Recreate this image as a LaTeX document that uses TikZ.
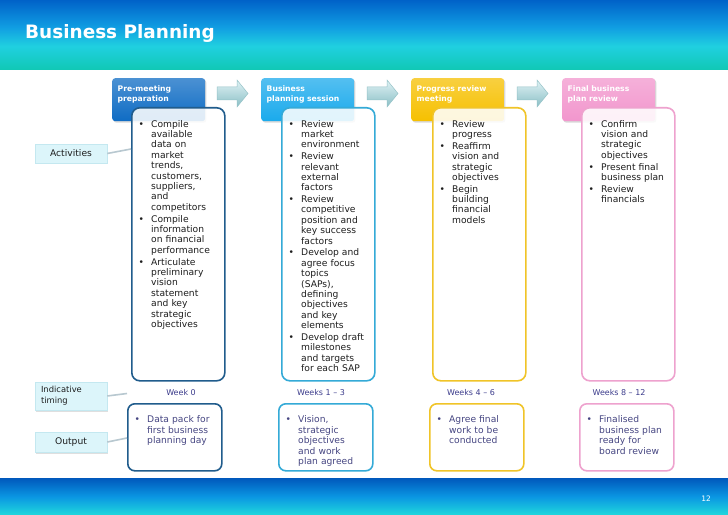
\documentclass[tikz,border=0pt]{standalone}
\usepackage{fontspec}
\setmainfont{DejaVu Sans}
\usetikzlibrary{shadows}
\definecolor{hdrA}{RGB}{15,108,196}
\definecolor{hdrB}{RGB}{26,170,236}
\definecolor{hdrC}{RGB}{246,192,0}
\definecolor{hdrD}{RGB}{242,150,205}
\definecolor{bdA}{RGB}{32,92,140}
\definecolor{bdB}{RGB}{52,170,215}
\definecolor{bdC}{RGB}{240,196,40}
\definecolor{bdD}{RGB}{238,162,206}
\definecolor{bodytxtc}{RGB}{30,30,30}
\definecolor{outtxtc}{RGB}{70,70,130}
\definecolor{weektxtc}{RGB}{60,60,140}
\definecolor{labfill}{RGB}{220,245,250}
\definecolor{labdraw}{RGB}{196,232,240}
\definecolor{connc}{RGB}{184,200,208}
\definecolor{hb1}{RGB}{0,98,200}
\definecolor{hb2}{RGB}{16,156,226}
\definecolor{hb3}{RGB}{32,208,224}
\definecolor{hb4}{RGB}{16,200,180}
\definecolor{fb1}{RGB}{0,88,188}
\definecolor{fb2}{RGB}{10,150,226}
\definecolor{fb3}{RGB}{32,216,220}
\definecolor{arrtop}{RGB}{224,243,245}
\definecolor{arrbot}{RGB}{138,190,197}
\definecolor{arrdraw}{RGB}{150,195,200}

\pgfdeclareverticalshading{hband}{100bp}{color(0bp)=(hb4); color(25bp)=(hb4); color(42bp)=(hb3); color(56bp)=(hb2); color(75bp)=(hb1); color(100bp)=(hb1)}
\pgfdeclareverticalshading{fband}{100bp}{color(0bp)=(fb3); color(25bp)=(fb3); color(50bp)=(fb2); color(75bp)=(fb1); color(100bp)=(fb1)}

\makeatletter
\newcommand{\bitem}[1]{\par{\let\\\@normalcr\hangindent=12.5bp\hangafter=1\noindent\strut\makebox[12.5bp][l]{•}#1\par}}
\makeatother

\tikzset{
 hdrbox/.style={rounded corners=3bp, minimum width=93bp, minimum height=43bp, anchor=north west, inner sep=0pt,
   drop shadow={opacity=0.3, shadow xshift=1.2bp, shadow yshift=-1.5bp}},
 hdrtext/.style={anchor=north west, inner sep=0pt, text width=90bp, text=white,
   font=\fontsize{7.7}{10}\selectfont\bfseries},
 actbox/.style={rounded corners=8bp, line width=1.6bp, fill=white, fill opacity=0.87,
   minimum width=93bp, minimum height=273bp, anchor=north west, inner sep=0pt},
 outbox/.style={rounded corners=7bp, line width=1.6bp, fill=white,
   minimum width=94bp, minimum height=67bp, anchor=north west, inner sep=0pt},
 bodytext/.style={anchor=north west, inner sep=0pt, text width=92bp, text=bodytxtc,
   font=\fontsize{9.2}{10.45}\selectfont\setlength{\parskip}{1.3bp}},
 outtext/.style={bodytext, text=outtxtc},
 weektext/.style={inner sep=0pt, text=weektxtc, font=\fontsize{8}{10}\selectfont},
 labbox/.style={fill=labfill, draw=labdraw, line width=0.5bp, inner sep=0pt, minimum width=72bp,
   text=bodytxtc, font=\fontsize{9.2}{11}\selectfont,
   drop shadow={opacity=0.25, shadow xshift=1.2bp, shadow yshift=-1.5bp}},
 conn/.style={draw=connc, line width=1.6bp},
 arrbody/.style={top color=arrtop, bottom color=arrbot, draw=arrdraw, line width=0.5bp},
 blockarrow/.pic={\path[arrbody] (0,87) -- (20,87) -- (20,80) -- (31,93.5) -- (20,107) -- (20,100) -- (0,100) -- cycle;}
}

\begin{document}
\begin{tikzpicture}[x=1bp,y=-1bp]
\useasboundingbox (0,0) rectangle (728,515);
\fill[white] (0,0) rectangle (728,515);

% bands
\shade[shading=hband] (0,0) rectangle (728,70);
\shade[shading=fband] (0,478) rectangle (728,515);
\node[anchor=base west, inner sep=0pt, text=white, font=\fontsize{18.5}{20}\selectfont\bfseries] (title) at (25,38.5) {Business Planning};
\node[inner sep=0pt, text=white, font=\fontsize{7.5}{9}\selectfont] (pg) at (706,499) {12};

% header boxes
\node[hdrbox, top color=hdrA!75!white, bottom color=hdrA] (h1) at (112,78) {};
\node[hdrbox, top color=hdrB!75!white, bottom color=hdrB] (h2) at (261,78) {};
\node[hdrbox, top color=hdrC!75!white, bottom color=hdrC] (h3) at (411,78) {};
\node[hdrbox, top color=hdrD!75!white, bottom color=hdrD] (h4) at (562,78) {};
\node[hdrtext] (ht1) at (117.5,84) {\strut Pre-meeting\\preparation};
\node[hdrtext] (ht2) at (266.5,84) {\strut Business\\planning session};
\node[hdrtext] (ht3) at (416.5,84) {\strut Progress review\\meeting};
\node[hdrtext] (ht4) at (567.5,84) {\strut Final business\\plan review};

% arrows between headers
\pic at (217,0) {blockarrow};
\pic at (367,0) {blockarrow};
\pic at (517,0) {blockarrow};

% activity boxes
\node[actbox, draw=bdA] (A1) at (131,107) {};
\node[actbox, draw=bdB] (A2) at (281,107) {};
\node[actbox, draw=bdC] (A3) at (432,107) {};
\node[actbox, draw=bdD] (A4) at (581,107) {};

\node[bodytext] (t1) at (138.5,115.2) {%
\bitem{Compile\\available\\data on\\market\\trends,\\customers,\\suppliers,\\and\\competitors}%
\bitem{Compile\\information\\on financial\\performance}%
\bitem{Articulate\\preliminary\\vision\\statement\\and key\\strategic\\objectives}};
\node[bodytext] (t2) at (288.5,115.2) {%
\bitem{Review\\market\\environment}%
\bitem{Review\\relevant\\external\\factors}%
\bitem{Review\\competitive\\position and\\key success\\factors}%
\bitem{Develop and\\agree focus\\topics\\(SAPs),\\defining\\objectives\\and key\\elements}%
\bitem{Develop draft\\milestones\\and targets\\for each SAP}};
\node[bodytext] (t3) at (439.5,115.2) {%
\bitem{Review\\progress}%
\bitem{Reaffirm\\vision and\\strategic\\objectives}%
\bitem{Begin\\building\\financial\\models}};
\node[bodytext] (t4) at (588.5,115.2) {%
\bitem{Confirm\\vision and\\strategic\\objectives}%
\bitem{Present final\\business plan}%
\bitem{Review\\financials}};

% week labels
\node[weektext] (w1) at (181,393) {Week 0};
\node[weektext] (w2) at (321,393) {Weeks 1 – 3};
\node[weektext] (w3) at (471,393) {Weeks 4 – 6};
\node[weektext] (w4) at (619,393) {Weeks 8 – 12};

% output boxes
\node[outbox, draw=bdA] (O1) at (127,403) {};
\node[outbox, draw=bdB] (O2) at (278,403) {};
\node[outbox, draw=bdC] (O3) at (429,403) {};
\node[outbox, draw=bdD] (O4) at (579,403) {};
\node[outtext] (o1) at (134.5,411) {\bitem{Data pack for\\first business\\planning day}};
\node[outtext] (o2) at (285.5,411) {\bitem{Vision,\\strategic\\objectives\\and work\\plan agreed}};
\node[outtext] (o3) at (436.5,411) {\bitem{Agree final\\work to be\\conducted}};
\node[outtext] (o4) at (586.5,411) {\bitem{Finalised\\business plan\\ready for\\board review}};

% left labels
\node[labbox, minimum height=19bp] (labA) at (71,153.5) {Activities};
\node[labbox, minimum height=28bp, text width=60bp, align=left, font=\fontsize{8.4}{11}\selectfont] (labT) at (71,396) {Indicative\\timing};
\node[labbox, minimum height=20bp] (labO) at (71,442) {Output};

\coordinate (cA) at (131,149);
\coordinate (cT) at (127,393.5);
\coordinate (cO) at (127,438);
\draw[conn] (labA.east) -- (cA);
\draw[conn] (labT.east) -- (cT);
\draw[conn] (labO.east) -- (cO);
\end{tikzpicture}
\end{document}
